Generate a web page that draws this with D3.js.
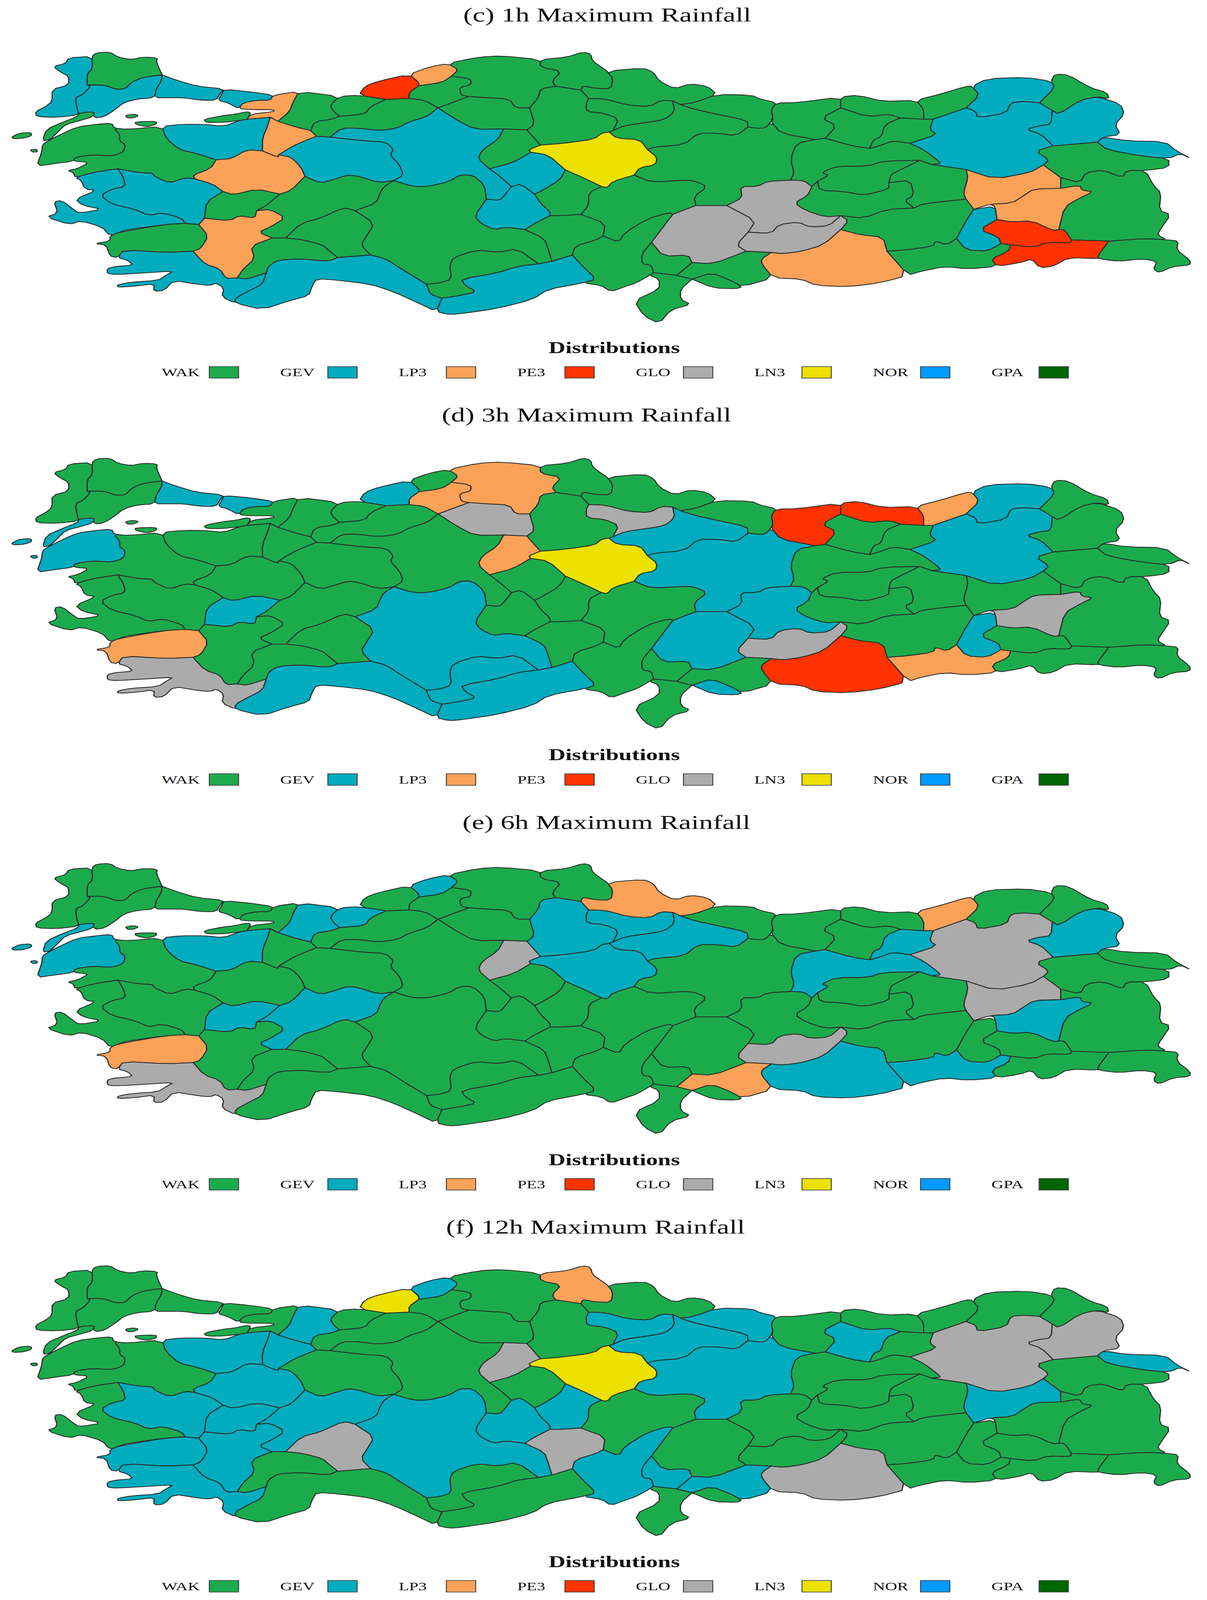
<!DOCTYPE html>
<html><head><meta charset="utf-8">
<script src="https://cdn.jsdelivr.net/npm/d3@7/dist/d3.min.js"></script>
<style>html,body{margin:0;background:#fff;overflow:hidden}svg{display:block}text{font-family:"Liberation Serif",serif;fill:#111}</style>
</head><body><svg id="c"></svg>
<script>
// ---- chart values ----
const distributions=["WAK","GEV","LP3","PE3","GLO","LN3","NOR","GPA"];
const distColors=["#1CAB4C","#00ACBE","#FCA258","#FF3300","#ABABAB","#EDE100","#0099FF","#006600"];
const panelTitles=["(c) 1h Maximum Rainfall","(d) 3h Maximum Rainfall","(e) 6h Maximum Rainfall","(f) 12h Maximum Rainfall"];
const legendTitle="Distributions";
// provinces not listed under any code are WAK
const rain1h={GEV:["Edirne","Tekirdag","Istanbul","Bursa","Eskisehir","Ankara","Kirsehir","Aksaray","Manisa","Izmir","Mugla","Antalya","Mersin","Artvin","Kars","Erzurum","Igdir","Batman"],
LP3:["Kocaeli","Bilecik","Kutahya","Denizli","Bartin","Sanliurfa","Mus","Bitlis"],PE3:["Zonguldak","Siirt","Sirnak"],GLO:["Kahramanmaras","Malatya","Adiyaman"],LN3:["Yozgat"]};
const rain3h={GEV:["Istanbul","Canakkale","Zonguldak","Tokat","Artvin","Erzurum","Batman","Malatya","Kahramanmaras","Sivas","Konya","Karaman","Mersin","Antalya","Usak","Kilis"],
LP3:["Karabuk","Kastamonu","Rize","Mardin","Kirikkale","Aydin"],PE3:["Giresun","Trabzon","Sanliurfa"],GLO:["Cankiri","Amasya","Bitlis","Adiyaman","Mugla"],LN3:["Yozgat"]};
const rain6h={GEV:["Canakkale","Bursa","Sakarya","Duzce","Bartin","Usak","Afyon","Corum","Amasya","Tokat","Yozgat","Bayburt","Erzincan","Kars","Bitlis","Sanliurfa","Mardin"],
LP3:["Samsun","Rize","Aydin","Gaziantep"],GLO:["Kirikkale","Erzurum","Mus","Adiyaman","Mugla"]};
const rain12h={GEV:["Sakarya","Bartin","Amasya","Tokat","Ordu","Gumushane","Igdir","Mus","Sivas","Nevsehir","Aksaray","Adana","Osmaniye","Gaziantep","Konya","Denizli","Afyon","Usak","Kutahya","Bilecik","Bursa","Manisa","Aydin","Mugla"],
LP3:["Sinop"],GLO:["Kars","Erzurum","Sanliurfa","Kirikkale","Nigde","Isparta"],LN3:["Yozgat","Zonguldak"]};
const panelValues=[rain1h,rain3h,rain6h,rain12h];
// basemap outlines, traced in west-tile units
const westShapes={
Edirne:"238,222 178,228 170,250 138,262 158,285 178,300 178,335 135,352 135,400 118,420 92,440 95,460 150,462 205,452 200,430 195,385 215,372 235,340 226,335 226,290 240,270",
Kirklareli:"238,222 250,208 285,205 305,225 340,235 370,225 408,228 405,245 420,295 370,305 340,325 325,350 300,352 270,335 226,335 226,290 240,270",
Tekirdag:"226,335 270,335 300,352 325,350 340,325 370,305 420,295 418,320 405,350 400,385 355,390 320,405 300,430 270,460 245,465 240,440 205,452 200,430 195,385 215,372 235,340",
Canakkale:"150,535 200,500 250,490 290,485 295,505 330,510 310,530 310,555 325,570 320,600 290,615 240,610 195,620 190,635 140,645 95,655 108,600 110,570 125,555|245,440 240,460 215,472 170,490 150,520 130,550 110,555 120,510 165,480 200,460 205,445|30,540 50,525 80,522 82,535 60,545 35,547|78,590 95,588 97,598 85,600",
Balikesir:"295,505 330,510 420,498 430,545 465,590 510,605 560,630 545,665 500,690 505,705 480,700 440,722 400,695 395,682 360,680 305,665 240,680 195,700 190,680 175,672 200,665 232,640 190,635 195,620 240,610 290,615 320,600 325,570 310,555 310,530|325,455 345,450 360,455 345,465 330,465|350,480 405,478 405,490 380,500 352,490",
Bursa:"420,498 470,490 530,490 580,498 620,475 640,470 700,462 695,490 680,545 680,595 640,590 600,625 560,630 510,605 465,590 430,545",
Yalova:"528,470 580,455 610,450 640,440 650,445 640,470 620,475 582,482 535,483",
Kocaeli:"708,375 775,360 760,400 750,440 720,478 700,462 640,470 650,450 710,440 708,432 650,432 618,428 630,405 665,395 700,395",
Istanbul:"420,295 455,315 510,340 580,350 570,370 560,395 520,395 475,385 440,385 400,385 405,350 418,320|580,352 650,362 708,375 700,395 665,395 630,405 618,428 590,405 565,395 575,370",
Sakarya:"775,360 880,380 855,415 865,440 880,458 860,470 815,480 805,515 765,500 720,478 750,440 760,400",
Bilecik:"720,478 765,500 805,515 820,537 790,555 760,575 722,610 720,620 680,595 680,545 695,490 700,462",
Duzce:"880,380 930,375 1000,392 960,420 945,450 880,458 865,440 855,415",
Bolu:"1000,392 1060,388 1100,395 1135,425 1105,460 1060,480 1030,505 980,515 930,505 885,505 855,540 820,537 805,515 815,480 860,470 880,458 945,450 960,420",
Zonguldak:"930,375 945,340 980,320 1060,293 1085,325 1085,338 1060,365 1060,388 1000,392",
Bartin:"1060,293 1110,265 1160,250 1188,275 1170,300 1145,325 1085,338 1085,325",
Karabuk:"1085,338 1145,325 1170,300 1220,310 1220,335 1190,345 1195,375 1215,380 1135,425 1100,395 1060,388 1060,365",
Kastamonu:"1160,250 1240,225 1300,220 1400,235 1400,265 1455,280 1430,320 1440,340 1400,350 1395,385 1372,425 1335,425 1320,390 1260,385 1215,380 1195,375 1190,345 1220,335 1220,310 1170,300 1188,275",
Sinop:"1400,235 1470,225 1510,205 1530,212 1535,240 1558,265 1573,280 1588,310 1583,350 1540,348 1510,338 1505,355 1440,340 1430,320 1455,280 1400,265",
Samsun:"1573,280 1668,268 1693,285 1708,320 1748,350 1788,330 1833,340 1858,372 1798,405 1763,412 1743,398 1713,395 1683,420 1628,415 1568,390 1525,388 1505,355 1510,338 1540,348 1583,350 1588,310",
Amasya:"1525,388 1568,390 1628,415 1683,420 1713,395 1743,398 1748,440 1723,470 1688,480 1618,495 1588,515 1603,470 1568,447 1520,440 1518,410",
Corum:"1400,350 1440,340 1505,355 1525,388 1518,410 1520,440 1568,447 1603,470 1588,515 1578,520 1558,525 1540,548 1460,565 1400,572 1365,512 1385,490 1372,425 1395,385",
Cankiri:"1135,425 1215,380 1260,385 1320,390 1335,425 1372,425 1385,490 1365,512 1305,508 1230,510 1180,470",
Ankara:"1135,425 1180,470 1230,510 1305,508 1290,550 1250,590 1238,625 1268,665 1295,695 1325,735 1310,765 1295,790 1260,785 1255,730 1225,690 1190,690 1165,715 1110,735 1070,735 1020,712 1045,690 1035,650 1010,610 1020,590 1000,560 940,555 855,540 885,505 930,505 980,515 1030,505 1060,480 1105,460",
Eskisehir:"855,540 940,555 1000,560 1020,590 1010,610 1035,650 1045,690 1020,712 980,720 930,695 900,690 870,705 830,722 790,695 780,660 755,620 722,610 760,575 790,555 820,537",
Kutahya:"680,595 720,620 722,610 755,620 780,660 790,695 755,750 725,765 665,745 605,768 578,755 550,725 505,705 500,690 545,665 560,630 600,625 640,590",
Manisa:"305,665 360,680 395,682 400,695 440,722 480,700 505,705 550,725 578,755 535,795 530,860 515,885 480,880 470,860 420,838 385,850 350,825 290,805 260,770 290,745 325,735 320,700",
Izmir:"195,700 240,680 305,665 320,700 325,735 290,745 260,770 290,805 350,825 385,850 420,838 470,860 480,880 425,885 330,905 310,915 285,930 265,895 210,870 180,885 120,855 150,840 140,795 160,790 190,825 205,840 265,825 215,810 195,785 250,750 220,745 210,710",
Usak:"578,755 605,768 665,745 725,765 690,810 665,830 660,860 620,850 595,870 530,860 535,795",
Aydin:"310,915 425,885 480,880 515,885 540,930 520,980 500,990 430,995 320,985 305,1015 285,1010 275,965 245,960 285,950 285,930",
Denizli:"515,885 530,860 595,870 620,850 660,860 665,830 700,825 740,858 700,895 670,915 705,938 650,970 660,1020 630,1060 615,1095 585,1098 570,1060 530,1040 500,990 520,980 540,930",
Mugla:"320,985 430,995 500,990 530,1040 570,1060 585,1098 615,1095 640,1100 690,1075 680,1120 640,1150 610,1175 610,1195 575,1170 580,1135 560,1115 545,1125 510,1120 450,1105 425,1145 398,1148 400,1118 350,1128 305,1132 305,1122 340,1112 410,1105 430,1085 450,1068 380,1075 300,1082 278,1078 278,1058 300,1050 345,1045 330,1025 305,1015",
Afyon:"725,765 755,750 790,695 830,722 870,705 900,690 930,695 980,720 1020,712 995,735 985,760 975,800 920,830 890,818 830,860 780,880 740,938 705,938 670,915 700,895 740,858 700,825 665,830 690,810",
Isparta:"740,938 780,880 830,860 890,818 920,830 970,880 950,930 935,965 960,1005 875,1015 850,985 835,965 785,945",
Burdur:"705,938 740,938 785,945 835,965 850,985 875,1015 850,1030 780,1020 720,1025 695,1050 690,1075 640,1100 615,1095 630,1060 660,1020 650,970",
Antalya:"690,1075 695,1050 720,1025 780,1020 850,1030 875,1015 960,1005 1000,1020 1040,1060 1105,1120 1115,1160 1145,1175 1130,1228 1085,1195 1020,1150 960,1120 880,1105 820,1098 808,1130 800,1165 750,1185 680,1220 610,1195 610,1175 640,1150 680,1120",
Konya:"920,830 975,800 985,760 995,735 1020,712 1070,735 1110,735 1165,715 1190,690 1225,690 1255,730 1260,785 1230,850 1245,880 1280,905 1310,895 1360,905 1410,940 1420,980 1430,1030 1395,1040 1340,980 1290,995 1235,985 1175,1015 1165,1045 1170,1100 1140,1115 1105,1120 1040,1060 1000,1020 960,1005 935,965 950,930 970,880",
Karaman:"1175,1015 1235,985 1290,995 1340,980 1395,1040 1340,1050 1290,1075 1195,1100 1205,1125 1235,1150 1190,1165 1145,1175 1115,1160 1105,1120 1140,1115 1170,1100 1165,1045",
Mersin:"1145,1175 1190,1165 1235,1150 1205,1125 1195,1100 1290,1075 1340,1050 1395,1040 1430,1030 1483,1005 1510,1050 1545,1100 1510,1115 1420,1140 1380,1180 1290,1215 1200,1235 1165,1240 1130,1228",
Aksaray:"1325,735 1350,725 1385,765 1400,800 1425,835 1425,850 1380,885 1360,905 1310,895 1280,905 1245,880 1230,850 1260,785 1295,790 1310,765",
Kirsehir:"1268,665 1330,640 1375,600 1420,610 1465,670 1450,710 1400,755 1385,765 1350,725 1325,735 1295,695",
Kirikkale:"1305,508 1365,512 1400,572 1370,590 1375,600 1330,640 1268,665 1238,625 1250,590 1290,550",
Yozgat:"1370,590 1400,572 1460,565 1540,548 1558,525 1578,520 1598,545 1658,550 1678,590 1703,620 1698,650 1658,660 1643,690 1588,715 1573,740 1558,735 1510,700 1465,670 1420,610 1375,600",
Nevsehir:"1465,670 1510,700 1558,735 1525,760 1525,810 1505,845 1455,850 1425,850 1425,835 1400,800 1385,765 1400,755 1450,710",
Nigde:"1360,905 1380,885 1425,850 1455,850 1505,845 1568,880 1563,930 1545,945 1490,970 1483,1005 1430,1030 1420,980 1410,940",
Kayseri:"1573,740 1588,715 1643,690 1688,718 1768,710 1798,712 1833,735 1798,775 1803,810 1743,845 1733,838 1678,862 1618,918 1603,955 1563,930 1568,880 1505,845 1525,810 1525,760 1558,735",
Adana:"1603,955 1618,918 1678,862 1733,838 1743,845 1713,905 1688,955 1663,1000 1663,1040 1688,1045 1693,1075 1683,1085 1648,1115 1618,1130 1583,1150 1558,1125 1510,1115 1545,1100 1510,1050 1483,1005 1490,970 1545,945 1563,930"
};
const eastShapes={
Tokat:"30,515 60,495 130,480 165,470 190,440 185,398 205,412 240,430 300,450 378,475 380,500 350,535 300,525 250,525 215,570 135,580 120,590 100,550 40,545 20,520",
Sivas:"135,580 215,570 250,525 300,525 350,535 380,500 400,505 440,480 465,525 555,550 505,565 490,630 500,680 490,710 430,715 405,735 360,735 365,780 325,810 245,810 240,775 275,735 240,712 210,710 130,718 85,690 100,660 140,650 145,620 120,590",
Ordu:"240,430 205,412 240,405 300,372 390,375 410,390 455,405 440,430 445,470 425,505 400,505 380,500 378,475 300,450",
Giresun:"455,405 505,405 620,382 620,425 570,465 610,495 580,545 555,550 465,525 440,480 445,470 440,430",
Gumushane:"570,465 620,425 690,460 745,450 775,465 735,490 725,540 705,550 695,585 650,575 580,545 610,495",
Trabzon:"620,382 665,375 730,400 815,395 835,430 835,470 775,465 745,450 690,460 620,425",
Rize:"815,395 880,370 945,340 960,340 980,375 945,425 860,470 835,470 835,430",
Bayburt:"735,490 775,465 835,470 860,470 850,510 870,530 800,565 755,555 720,575 695,585 705,550 725,540",
Erzincan:"505,565 555,550 580,545 650,575 695,585 720,575 755,555 800,565 835,590 870,630 880,645 855,648 825,632 730,635 690,655 610,655 570,680 590,690 560,715 545,735 525,712 490,710 500,680 490,630",
Tunceli:"560,715 590,690 570,680 610,655 690,655 730,635 825,632 760,680 750,690 745,720 745,745 680,770 630,755 565,750",
Bingol:"750,690 760,680 825,632 855,648 945,668 950,700 938,760 945,785 880,795 830,805 810,820 785,790 810,770 800,710 745,720",
Elazig:"535,770 545,735 560,715 565,750 630,755 680,770 745,745 745,720 800,710 810,770 785,790 810,820 740,825 680,860 620,850 580,855 530,830 500,800",
Diyarbakir:"620,905 640,870 620,850 680,860 740,825 810,820 830,805 880,795 945,785 965,825 945,870 920,940 895,965 865,950 860,970 790,985 740,990 730,935 670,925",
Batman:"965,825 1020,812 1025,865 980,905 1030,935 1035,960 1000,990 945,985 920,940 945,870",
Mus:"945,668 1020,705 1110,680 1145,650 1190,700 1190,742 1120,745 1095,770 1065,800 1005,805 965,825 945,785 938,760 950,700",
Bitlis:"1020,812 1005,805 1065,800 1095,770 1120,745 1190,742 1240,730 1245,750 1275,755 1240,780 1200,815 1185,905 1170,908 1115,870 1065,875 1025,865",
Siirt:"980,905 1025,865 1065,875 1115,870 1170,908 1185,905 1200,905 1218,945 1215,958 1155,955 1120,975 1060,965 1035,960 1030,935",
Sirnak:"1060,965 1120,975 1155,955 1215,958 1218,945 1315,950 1285,1010 1290,1020 1210,1015 1170,1050 1135,1055 1115,1020 1085,1035 1025,1050 1010,1020 1055,990",
Mardin:"740,990 790,985 860,970 865,950 895,965 920,940 945,985 1000,990 1035,960 1060,965 1055,990 1010,1020 1025,1050 950,1060 890,1050 825,1070 795,1085",
Hakkari:"1315,950 1410,940 1465,945 1495,950 1490,985 1525,1025 1525,1045 1480,1050 1445,1075 1430,1060 1440,1030 1400,1020 1340,1030 1290,1020 1285,1010",
Van:"1190,742 1190,700 1240,720 1255,680 1300,670 1350,700 1360,672 1410,672 1430,730 1450,760 1445,830 1475,845 1450,900 1440,925 1465,945 1410,940 1315,950 1218,945 1200,905 1185,905 1200,815 1240,780 1275,755 1245,750 1240,730",
Agri:"1125,595 1170,575 1285,560 1310,590 1400,615 1470,625 1470,660 1410,672 1360,672 1350,700 1300,670 1255,680 1240,720 1190,700 1145,650 1160,630",
Igdir:"1285,560 1300,540 1360,555 1460,558 1490,595 1528,625 1500,605 1470,625 1400,615 1310,590",
Kars:"1100,510 1135,495 1165,490 1168,435 1185,450 1240,395 1285,380 1345,410 1355,450 1330,490 1345,530 1300,540 1285,560 1170,575 1140,530",
Ardahan:"1135,405 1175,345 1165,320 1175,292 1210,295 1265,345 1310,365 1315,390 1285,380 1240,395 1185,450 1168,435",
Artvin:"960,340 1000,310 1100,305 1165,320 1175,345 1135,405 1095,400 1060,405 1050,445 975,465 970,440 945,425 980,375",
Erzurum:"800,565 870,530 850,510 860,470 945,425 970,440 975,465 1050,445 1060,405 1095,400 1135,405 1168,435 1165,490 1135,495 1100,510 1140,530 1170,575 1125,595 1160,630 1145,650 1110,680 1020,705 945,668 855,648 880,645 870,630 835,590",
Kahramanmaras:"155,905 185,845 245,810 325,810 400,870 380,915 350,965 375,990 290,1040 235,1035 225,1005 160,1010 130,955",
Malatya:"325,810 365,780 360,735 405,735 430,715 490,710 525,712 545,735 535,770 500,800 530,830 580,855 620,850 590,890 540,895 510,875 460,885 440,920 380,915 400,870",
Adiyaman:"350,965 380,915 440,920 460,885 510,875 540,895 590,890 620,850 640,870 620,905 575,965 520,990 470,1000 440,995 375,990",
Sanliurfa:"415,1020 440,995 470,1000 520,990 575,965 620,905 670,925 730,935 740,990 795,1085 720,1115 640,1130 555,1125 520,1100 445,1095 415,1040",
Gaziantep:"195,1085 235,1035 290,1040 375,990 440,995 415,1020 415,1040 445,1095 365,1130 335,1105 285,1075 235,1100",
Kilis:"235,1100 285,1075 335,1105 365,1130 350,1138 290,1135",
Osmaniye:"130,955 160,1010 225,1005 235,1035 195,1085 135,1075 130,1045 105,1040 105,1000",
Hatay:"135,1075 195,1085 235,1100 205,1140 205,1180 232,1200 180,1220 150,1275 110,1245 85,1185 150,1140 150,1100 125,1085"
};
const eastOffset=1558;
// ---- layout, in reference pixels ----
const W=3091,H=5831;
const panelDy=[0,1480,2957,4423];
const titleX=[1555,1502,1553,1525], titleY=[79,1536,3021,4495];
const headY=[1287,2771,4246,5712], legY=[1357,2841,4316,5781];
const sx=d3.scaleLinear().domain([0,3126]).range([0,3090]);
const sy=d3.scaleLinear().domain([0,1568]).range([0,1450]);
function parse(str,off){return str.split("|").map(r=>r.trim().split(/\s+/).map(s=>{const [a,b]=s.split(",").map(Number);return [a+off,b]}))}
const raw=[];
for(const [k,v] of Object.entries(westShapes))raw.push({id:k,rings:parse(v,0)});
for(const [k,v] of Object.entries(eastShapes))raw.push({id:k,rings:parse(v,eastOffset)});
// vertices used by three or more provinces stay fixed so junctions remain closed
const uses=new Map();
raw.forEach(f=>{const seen=new Set();f.rings.flat().forEach(p=>seen.add(p.join()));seen.forEach(k=>uses.set(k,(uses.get(k)||0)+1))});
function smooth(ring,r=0.22){const out=[],n=ring.length;for(let i=0;i<n;i++){const P=ring[i],N=ring[(i+1)%n],dx=N[0]-P[0],dy=N[1]-P[1];
 out.push(uses.get(P.join())>=3?P:[P[0]+r*dx,P[1]+r*dy]);
 if(uses.get(N.join())<3)out.push([N[0]-r*dx,N[1]-r*dy]);}
 out.push(out[0]);return out}
const features=raw.map(f=>({type:"Feature",id:f.id,geometry:{type:"MultiPolygon",coordinates:f.rings.map(r=>[smooth(r)])}}));
const color=d3.scaleOrdinal(distributions,distColors);
function distOf(vals,name){for(const d of distributions)if(vals[d]&&vals[d].includes(name))return d;return "WAK"}
const path=d3.geoPath(d3.geoTransform({point(x,y){this.stream.point(sx(x),sy(y))}}));
const svg=d3.select("#c").attr("width",innerWidth).attr("height",innerHeight).attr("viewBox",`0 0 ${W} ${H}`).attr("preserveAspectRatio","none");
const legX=d3.scalePoint(distributions,[536,2661]);
panelTitles.forEach((t,i)=>{
 const g=svg.append("g");
 g.append("text").attr("x",titleX[i]).attr("y",titleY[i]).attr("text-anchor","middle").attr("font-size",72).text(t);
 g.append("g").attr("transform",`translate(0,${panelDy[i]})`).selectAll("path").data(features).join("path")
  .attr("d",path).attr("fill",d=>color(distOf(panelValues[i],d.id))).attr("stroke","#2b2b2b").attr("stroke-width",3).attr("stroke-linejoin","round");
 g.append("text").attr("x",1573).attr("y",headY[i]).attr("text-anchor","middle").attr("font-size",60).attr("font-weight","bold").text(legendTitle);
 const it=g.append("g").selectAll("g").data(distributions).join("g").attr("transform",d=>`translate(${legX(d)},${legY[i]})`);
 it.append("rect").attr("x",0).attr("y",-21).attr("width",75).attr("height",42).attr("fill",d=>color(d)).attr("stroke","#444").attr("stroke-width",2.5);
 it.append("text").attr("x",-122).attr("y",14).attr("font-size",43).text(d=>d);
});
</script></body></html>
